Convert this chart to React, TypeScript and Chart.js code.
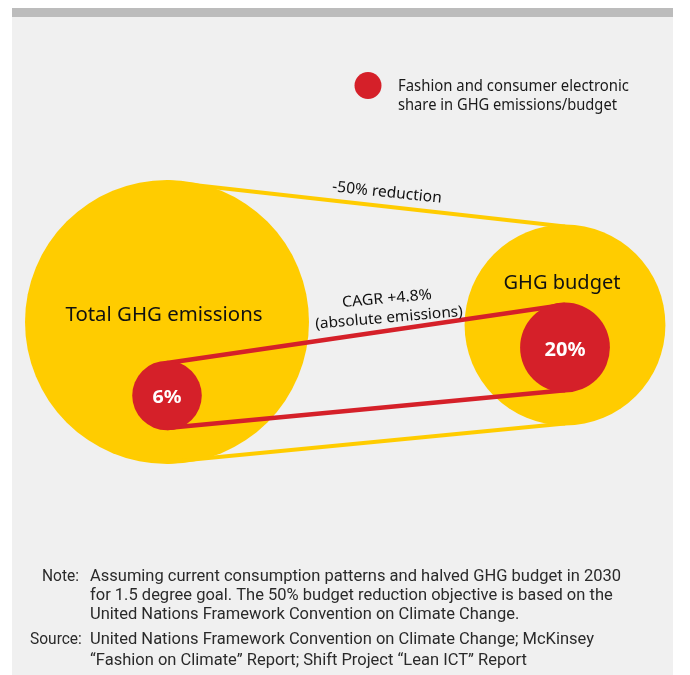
import React, { useEffect, useRef } from "react";
import { Chart, registerables } from "chart.js";

Chart.register(...registerables);

// ---------- data ----------
const categories = ["Total GHG emissions", "GHG budget"];
const ghgValues = [100, 50]; // relative size: emissions today vs halved budget in 2030
const shareValues = [6, 20]; // fashion & consumer electronics share (%)
const shareLabels = ["6%", "20%"];
const reductionLabel = "-50% reduction";
const cagrLabels = ["CAGR +4.8%", "(absolute emissions)"];
const legendLines = ["Fashion and consumer electronic", "share in GHG emissions/budget"];
const noteLines = [
  "Assuming current consumption patterns and halved GHG budget in 2030",
  "for 1.5 degree goal. The 50% budget reduction objective is based on the",
  "United Nations Framework Convention on Climate Change.",
];
const sourceLines = [
  "United Nations Framework Convention on Climate Change; McKinsey",
  "\u201CFashion on Climate\u201D Report; Shift Project \u201CLean ICT\u201D Report",
];

// ---------- layout / style ----------
const W = 690;
const H = 675;
const YELLOW = "#ffcc00";
const RED = "#d52029";
const BASE_R = 142;
const bigCenterY = [322, 325];
const smallCenterY = [395.5, 347.5];
const YLW = 4; // yellow connector width
const RLW = 4.5; // red connector width

const yellowR = ghgValues.map((v) => BASE_R * Math.sqrt(v / 100));
const redR = shareValues.map((v, i) => yellowR[i] * Math.sqrt(v / 100));

const yellowBubbles = categories.map((_, i) => ({ x: i, y: bigCenterY[i], r: yellowR[i] }));
const redBubbles = categories.map((_, i) => ({ x: i, y: smallCenterY[i], r: redR[i] }));
const yellowTop = categories.map((_, i) => ({ x: i, y: bigCenterY[i] - yellowR[i] + YLW / 2 }));
const yellowBottom = categories.map((_, i) => ({ x: i, y: bigCenterY[i] + yellowR[i] - YLW / 2 }));
const redTop = categories.map((_, i) => ({ x: i, y: smallCenterY[i] - redR[i] + RLW / 2 }));
const redBottom = categories.map((_, i) => ({ x: i, y: smallCenterY[i] + redR[i] - RLW / 2 }));

function drawText(
  ctx: CanvasRenderingContext2D,
  text: string,
  x: number,
  y: number,
  opts: { font: string; color: string; align?: CanvasTextAlign; baseline?: CanvasTextBaseline; width?: number; scale?: number; angle?: number }
) {
  ctx.save();
  ctx.font = opts.font;
  ctx.fillStyle = opts.color;
  ctx.textAlign = opts.align || "center";
  ctx.textBaseline = opts.baseline || "alphabetic";
  ctx.translate(x, y);
  if (opts.angle) ctx.rotate((opts.angle * Math.PI) / 180);
  let s = opts.scale || 1;
  if (opts.width) s = opts.width / ctx.measureText(text).width;
  ctx.scale(s, 1);
  ctx.fillText(text, 0, 0);
  ctx.restore();
}

const decorPlugin = {
  id: "decor",
  beforeDraw(chart: any) {
    const ctx = chart.ctx as CanvasRenderingContext2D;
    ctx.save();
    ctx.fillStyle = "#ffffff";
    ctx.fillRect(0, 0, W, H);
    ctx.fillStyle = "#f0f0f0";
    ctx.fillRect(12, 8, 661, H - 8);
    ctx.fillStyle = "#bcbcbc";
    ctx.fillRect(12, 8, 661, 9);
    ctx.restore();
  },
  afterDatasetsDraw(chart: any) {
    const ctx = chart.ctx as CanvasRenderingContext2D;
    const yel = chart.getDatasetMeta(0).data;
    const red = chart.getDatasetMeta(3).data;
    const lab = "'Noto Sans', 'Open Sans', sans-serif";

    // circle labels
    drawText(ctx, categories[0], yel[0].x - 3, yel[0].y - 1, { font: `20px ${lab}`, color: "#111", width: 197 });
    drawText(ctx, categories[1], yel[1].x - 3, yel[1].y - 36, { font: `20px ${lab}`, color: "#111", width: 117 });
    drawText(ctx, shareLabels[0], red[0].x, red[0].y + 7, { font: `bold 18px ${lab}`, color: "#fff", width: 29 });
    drawText(ctx, shareLabels[1], red[1].x, red[1].y + 8.5, { font: `bold 20px ${lab}`, color: "#fff", width: 41 });

    // -50% reduction along top yellow line
    const yt = chart.getDatasetMeta(1).data;
    const t1 = (387 - yt[0].x) / (yt[1].x - yt[0].x);
    const ly = yt[0].y + (yt[1].y - yt[0].y) * t1;
    drawText(ctx, reductionLabel, 387, ly - 14, { font: `15.5px ${lab}`, color: "#111", baseline: "middle", width: 110, angle: 6 });

    // CAGR labels along top red line
    const rt = chart.getDatasetMeta(2).data;
    const lineY = (x: number) => rt[0].y + ((rt[1].y - rt[0].y) * (x - rt[0].x)) / (rt[1].x - rt[0].x);
    drawText(ctx, cagrLabels[0], 387, lineY(387) - 32, { font: `15px ${lab}`, color: "#111", baseline: "middle", width: 90, angle: -5 });
    drawText(ctx, cagrLabels[1], 389, lineY(389) - 12.5, { font: `15px ${lab}`, color: "#111", baseline: "middle", width: 148, angle: -5 });

    // legend
    ctx.save();
    ctx.fillStyle = RED;
    ctx.beginPath();
    ctx.arc(368, 85.5, 13.5, 0, Math.PI * 2);
    ctx.fill();
    ctx.restore();
    drawText(ctx, legendLines[0], 398, 91, { font: `15.5px ${lab}`, color: "#1a1a1a", align: "left", width: 231 });
    drawText(ctx, legendLines[1], 398, 110, { font: `15.5px ${lab}`, color: "#1a1a1a", align: "left", width: 219 });

    // notes
    const nf = "17px Roboto, 'Liberation Sans', sans-serif";
    ctx.save();
    ctx.font = nf;
    const s = 531 / ctx.measureText(noteLines[0]).width;
    const sLab = 37 / ctx.measureText("Note:").width;
    ctx.restore();
    const noteY = [577, 596, 615];
    drawText(ctx, "Note:", 42, noteY[0], { font: nf, color: "#2a2a2a", align: "left", baseline: "middle", scale: sLab });
    noteLines.forEach((l, i) =>
      drawText(ctx, l, 90, noteY[i], { font: nf, color: "#2a2a2a", align: "left", baseline: "middle", scale: s })
    );
    const srcY = [640, 661];
    drawText(ctx, "Source:", 30, srcY[0], { font: nf, color: "#2a2a2a", align: "left", baseline: "middle", scale: sLab });
    sourceLines.forEach((l, i) =>
      drawText(ctx, l, 90, srcY[i], { font: nf, color: "#2a2a2a", align: "left", baseline: "middle", scale: s })
    );
  },
};

export default function App() {
  const ref = useRef<HTMLCanvasElement | null>(null);
  useEffect(() => {
    if (!ref.current) return;
    const lineDs = (data: any[], color: string, width: number, order: number) => ({
      type: "line" as const,
      data,
      borderColor: color,
      borderWidth: width,
      pointRadius: 0,
      pointHoverRadius: 0,
      fill: false,
      tension: 0,
      clip: false,
      order,
    });
    const chart = new Chart(ref.current, {
      type: "bubble",
      data: {
        datasets: [
          {
            label: "GHG",
            data: yellowBubbles,
            backgroundColor: YELLOW,
            borderWidth: 0,
            hoverRadius: 0,
            hoverBorderWidth: 0,
            clip: false,
            order: 5,
          } as any,
          lineDs(yellowTop, YELLOW, YLW, 4),
          lineDs(redTop, RED, RLW, 2),
          {
            label: "Share",
            data: redBubbles,
            backgroundColor: RED,
            borderWidth: 0,
            hoverRadius: 0,
            hoverBorderWidth: 0,
            clip: false,
            order: 1,
          } as any,
          lineDs(yellowBottom, YELLOW, YLW, 4),
          lineDs(redBottom, RED, RLW, 2),
        ],
      },
      options: {
        responsive: false,
        animation: false,
        events: [],
        layout: { padding: 0, autoPadding: false },
        plugins: { legend: { display: false }, tooltip: { enabled: false }, title: { display: false } },
        scales: {
          x: { type: "linear", display: false, min: -167 / 398, max: -167 / 398 + W / 398 },
          y: { type: "linear", display: false, min: 0, max: H, reverse: true },
        },
      } as any,
      plugins: [decorPlugin],
    });
    return () => chart.destroy();
  }, []);
  return (
    <div style={{ position: "absolute", left: 0, top: 0, width: W, height: H }}>
      <canvas ref={ref} width={W} height={H} style={{ display: "block" }} />
    </div>
  );
}
